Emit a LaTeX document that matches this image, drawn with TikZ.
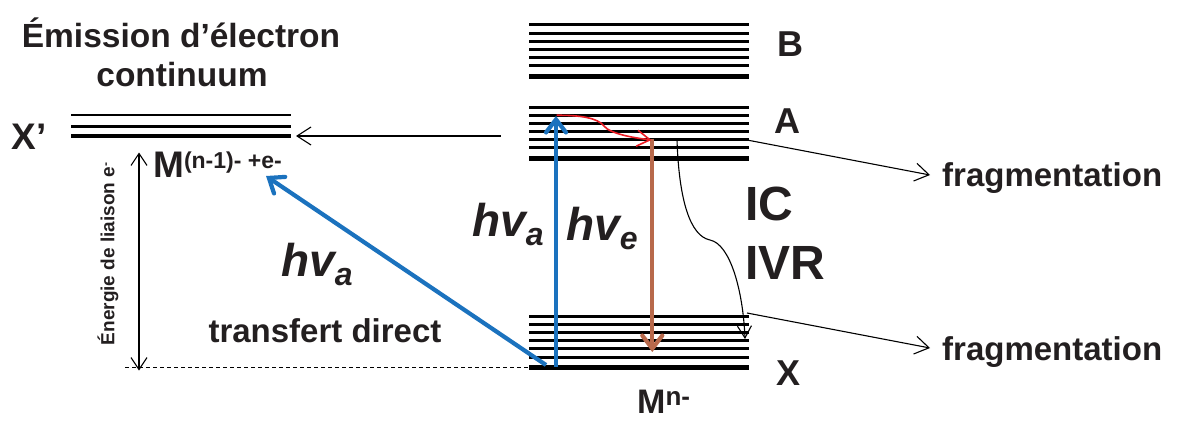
\documentclass[tikz,border=0pt]{standalone}
\usepackage{fontspec}
\setmainfont{Liberation Sans}
\usetikzlibrary{arrows.meta}
\definecolor{txt}{HTML}{231F20}
\definecolor{bluearr}{HTML}{1B72BE}
\definecolor{brownarr}{HTML}{B8694B}
\definecolor{redarr}{HTML}{EC1C24}
\tikzset{
  thinlev/.style={line width=2.7pt},
  thicklev/.style={line width=5pt},
  lbl/.style={text=txt,font=\bfseries\fontsize{#1}{#1}\selectfont,inner sep=0pt},
  hvl/.style={text=txt,font=\bfseries\itshape\fontsize{46}{46}\selectfont,inner sep=0pt},
  thinarr/.style={line width=1.1pt,-{Straight Barb[length=14pt,width=18pt,line width=1.1pt]}},
  bigarr/.style={line width=4.2pt,-{Straight Barb[length=13pt,width=20pt,line cap=round]}},
}
\begin{document}
\begin{tikzpicture}[x=1pt,y=-1pt]
\useasboundingbox (0,0) rectangle (1185,420);
% energy levels
\foreach \yy in {24.3,33.3,41.3,49.3,57.3,65.3} \draw[thinlev] (529,\yy) -- (749,\yy);
\draw[thicklev] (529,76.3) -- (749,76.3);
\foreach \yy in {107.3,115.3,123.3,131.3,139.3,147.3} \draw[thinlev] (529,\yy) -- (749,\yy);
\draw[thicklev] (529,158.3) -- (749,158.3);
\foreach \yy in {316.3,324.3,332.3,340.3,348.3,357.3} \draw[thinlev] (529,\yy) -- (749,\yy);
\draw[thicklev] (529,367.7) -- (749,367.7);
\foreach \yy in {115,126.3} \draw[line width=2.5pt] (71,\yy) -- (290.7,\yy);
\draw[line width=4pt] (71,136) -- (290.7,136);

% coordinates
\coordinate (Afrom) at (500.7,136);
\coordinate (Xpto) at (296,136);
\coordinate (Xbot) at (556,367);
\coordinate (Atop) at (556,116);
\coordinate (Xdiag) at (546,365);
\coordinate (Mtip) at (266,176);
\coordinate (redS) at (556.5,115.3);
\coordinate (redK) at (604,126);
\coordinate (redE) at (651.5,140);
\coordinate (brS) at (652.3,139.3);
\coordinate (brE) at (652.3,352);
\coordinate (icS) at (677,140);
\coordinate (icK) at (710,240);
\coordinate (icE) at (745,339);
\coordinate (fa1) at (747,140);
\coordinate (fb1) at (930,175);
\coordinate (fa2) at (747,313);
\coordinate (fb2) at (930,348);
\coordinate (eTop) at (139,152.5);
\coordinate (eBot) at (139,370.5);
\coordinate (dS) at (125,367.3);
\coordinate (dE) at (529,367.3);

% labels
\node[lbl=33.5] (emis) at (181,33) {Émission d’électron};
\node[lbl=33.5] (cont) at (182,75) {continuum};
\node[lbl=37] (Xp) at (29,136.5) {X’};
\node[lbl=37,anchor=west] (Mn1) at (153,165) {M\raisebox{9pt}{\fontsize{23}{23}\selectfont(n-1)- +e-}};
\node[lbl=36] (B) at (790,44) {B};
\node[lbl=36] (A) at (787,121.5) {A};
\node[lbl=36] (X) at (788,373) {X};
\node[lbl=34,anchor=base west] (Mn) at (637,413) {M\raisebox{8pt}{\fontsize{26}{26}\selectfont n-}};
\node[lbl=48,anchor=west] (IC) at (745,204) {IC};
\node[lbl=48,anchor=west] (IVR) at (745,263) {IVR};
\node[lbl=33,anchor=west] (frag1) at (942,178) {fragmentation};
\node[lbl=33,anchor=west] (frag2) at (942,352) {fragmentation};
\node[lbl=33] (td) at (325,331) {transfert direct};
\node[lbl=19,rotate=90] (eng) at (108,254) {Énergie de liaison e\raisebox{5pt}{\fontsize{12}{12}\selectfont -}};
\node[hvl,anchor=west] (hv1) at (281,264) {hv\raisebox{-9pt}{\fontsize{32}{32}\selectfont a}};
\node[hvl,anchor=west] (hv2) at (472,224) {hv\raisebox{-9pt}{\fontsize{32}{32}\selectfont a}};
\node[hvl,anchor=west] (hv3) at (566,228) {hv\raisebox{-9pt}{\fontsize{32}{32}\selectfont e}};

% connectors
\draw[thinarr] (Afrom) -- (Xpto);
\draw[thinarr] (fa1) -- (fb1);
\draw[thinarr] (fa2) -- (fb2);
\draw[line width=1.1pt,-{Straight Barb[length=12pt,width=14pt,line width=1.1pt]}] (icS) .. controls (679,200) and (690,236) .. (icK) .. controls (730,244) and (743,290) .. (icE);
\draw[line width=1.1pt,{Straight Barb[length=12pt,width=16pt,line width=1.1pt]}-{Straight Barb[length=12pt,width=16pt,line width=1.1pt]}] (eBot) -- (eTop);
\draw[line width=1pt,dash pattern=on 4pt off 3pt] (dS) -- (dE);
\draw[bluearr,bigarr] (Xbot) -- (Atop);
\draw[bluearr,bigarr] (Xdiag) -- (Mtip);
\draw[brownarr,bigarr] (brS) -- (brE);
\draw[redarr,line width=1.6pt,-{Straight Barb[length=13pt,width=16pt,line width=1.6pt]}] (redS) .. controls (580,115) and (598,118) .. (redK) .. controls (610,134) and (635,138) .. (redE);
\end{tikzpicture}
\end{document}
